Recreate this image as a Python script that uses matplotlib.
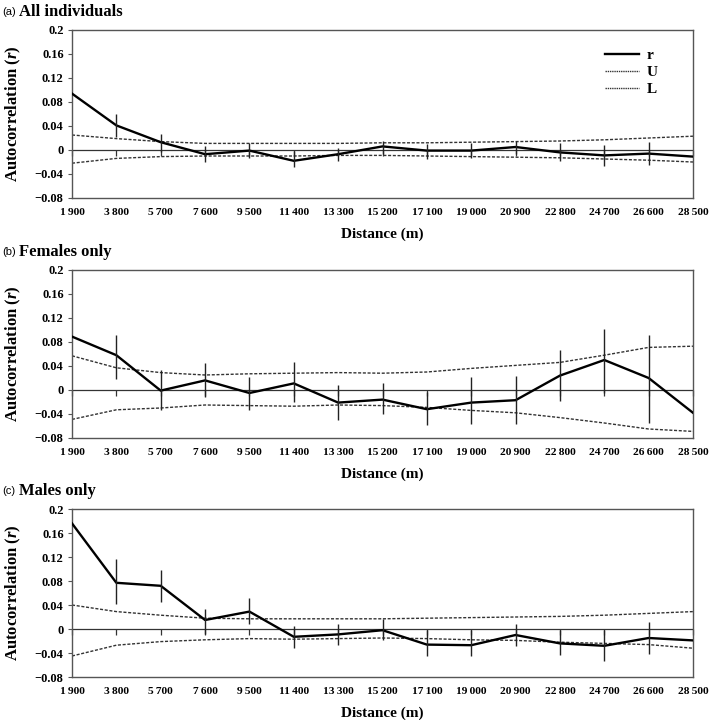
import matplotlib
matplotlib.use("Agg")
import matplotlib.pyplot as plt
import numpy as np
from matplotlib.ticker import FuncFormatter
from matplotlib.lines import Line2D

plt.rcParams["mathtext.fontset"] = "custom"
plt.rcParams["mathtext.it"] = "Liberation Serif:italic:bold"
plt.rcParams["mathtext.rm"] = "Liberation Serif:bold"
plt.rcParams["mathtext.bf"] = "Liberation Serif:bold"

distances = ["1\u2009900", "3\u2009800", "5\u2009700", "7\u2009600", "9\u2009500", "11\u2009400", "13\u2009300",
             "15\u2009200", "17\u2009100", "19\u2009000", "20\u2009900", "22\u2009800", "24\u2009700",
             "26\u2009600", "28\u2009500"]
yticks = [-0.08, -0.04, 0, 0.04, 0.08, 0.12, 0.16, 0.2]

# (a) All individuals
r_all = [0.094, 0.041, 0.013, -0.007, -0.001, -0.018, -0.007, 0.006, -0.001, -0.001, 0.005, -0.004, -0.009, -0.006, -0.011]
hi_all = [None, 0.060, 0.026, 0.006, 0.011, -0.001, 0.004, 0.015, 0.010, 0.011, 0.015, 0.011, 0.008, 0.014, None]
lo_all = [None, 0.022, -0.004, -0.020, -0.013, -0.029, -0.018, -0.007, -0.015, -0.014, -0.007, -0.019, -0.026, -0.025, None]
U_all = [0.025, 0.019, 0.014, 0.011, 0.011, 0.011, 0.011, 0.012, 0.012, 0.013, 0.014, 0.015, 0.017, 0.020, 0.023]
L_all = [-0.022, -0.014, -0.011, -0.010, -0.010, -0.010, -0.009, -0.009, -0.010, -0.011, -0.012, -0.013, -0.015, -0.017, -0.020]

# (b) Females only
r_fem = [0.089, 0.058, -0.001, 0.016, -0.005, 0.011, -0.021, -0.016, -0.032, -0.021, -0.017, 0.024, 0.050, 0.020, -0.038]
hi_fem = [None, 0.092, 0.034, 0.045, 0.021, 0.047, 0.008, 0.011, -0.003, 0.021, 0.024, 0.066, 0.102, 0.091, None]
lo_fem = [None, 0.018, -0.034, -0.011, -0.034, -0.020, -0.050, -0.040, -0.059, -0.057, -0.056, -0.018, -0.005, -0.055, None]
U_fem = [0.057, 0.037, 0.029, 0.025, 0.027, 0.028, 0.029, 0.028, 0.030, 0.036, 0.041, 0.046, 0.058, 0.071, 0.073]
L_fem = [-0.049, -0.033, -0.030, -0.025, -0.026, -0.027, -0.025, -0.026, -0.029, -0.034, -0.038, -0.046, -0.055, -0.065, -0.069]

# (c) Males only
r_mal = [0.176, 0.077, 0.072, 0.015, 0.029, -0.013, -0.009, -0.002, -0.026, -0.027, -0.010, -0.024, -0.028, -0.015, -0.019]
hi_mal = [None, 0.116, 0.098, 0.034, 0.052, 0.005, 0.009, 0.016, -0.001, -0.001, 0.009, -0.001, -0.001, 0.011, None]
lo_mal = [None, 0.042, 0.045, -0.008, 0.008, -0.032, -0.027, -0.019, -0.045, -0.045, -0.029, -0.044, -0.053, -0.042, None]
U_mal = [0.040, 0.029, 0.023, 0.018, 0.017, 0.017, 0.017, 0.017, 0.018, 0.019, 0.020, 0.021, 0.023, 0.026, 0.029]
L_mal = [-0.045, -0.027, -0.021, -0.018, -0.016, -0.017, -0.016, -0.015, -0.016, -0.018, -0.019, -0.022, -0.024, -0.026, -0.032]

panels = [
    ("(a)", "All individuals", r_all, hi_all, lo_all, U_all, L_all),
    ("(b)", "Females only", r_fem, hi_fem, lo_fem, U_fem, L_fem),
    ("(c)", "Males only", r_mal, hi_mal, lo_mal, U_mal, L_mal),
]

W, H = 709, 720
fig = plt.figure(figsize=(W / 100, H / 100), dpi=100)
serif = ["Liberation Serif", "DejaVu Serif"]
sans = "Liberation Sans"

tops = [30, 270, 509]
ax_left, ax_right = 72, 693
ax_h = 168
spine_col = "#555555"

def fmt(v, pos):
    if abs(v) < 1e-9:
        return "0"
    s = ("%.2f" % v).rstrip("0")
    return s.replace("-", "\u2212")

x = np.arange(len(distances))
for i, (tag, title, r, hi, lo, U, L) in enumerate(panels):
    top = tops[i]
    ax = fig.add_axes([ax_left / W, 1 - (top + ax_h) / H, (ax_right - ax_left) / W, ax_h / H])
    ax.set_xlim(0, len(distances) - 1)
    ax.set_ylim(-0.08, 0.2)
    ax.axhline(0, color="#333333", lw=0.9, zorder=1)
    ax.plot(x, U, color="#333333", lw=1.0, ls=(0, (2.2, 1.2)), zorder=2)
    ax.plot(x, L, color="#333333", lw=1.0, ls=(0, (2.2, 1.2)), zorder=2)
    ax.plot(x, r, color="black", lw=1.7, zorder=3)
    idx = [k for k in range(len(x)) if hi[k] is not None]
    ax.vlines([x[k] for k in idx], [lo[k] for k in idx], [hi[k] for k in idx],
              color="#222222", lw=1.0, zorder=3)
    ax.set_yticks(yticks)
    ax.yaxis.set_major_formatter(FuncFormatter(fmt))
    ax.set_xticks(x)
    ax.set_xticklabels(distances)
    ax.tick_params(axis="x", length=0, pad=7)
    ax.tick_params(axis="y", length=3, width=0.8, color=spine_col, pad=3, direction="out")
    for lab in ax.get_xticklabels():
        lab.set_fontfamily(serif)
        lab.set_fontweight("bold")
        lab.set_fontsize(8.2)
    for lab in ax.get_yticklabels():
        lab.set_fontfamily(serif)
        lab.set_fontweight("bold")
        lab.set_fontsize(9)
    for sp in ax.spines.values():
        sp.set_color(spine_col)
        sp.set_linewidth(1.0)
    # tick marks along the zero line
    sec = ax.secondary_xaxis(0.08 / 0.28)
    sec.set_xticks(x)
    sec.set_xticklabels([])
    sec.tick_params(axis="x", length=4, width=0.9, color="#333333", direction="out")
    sec.spines["bottom"].set_visible(False)
    ax.set_xlabel("Distance (m)", fontfamily=serif, fontweight="bold", fontsize=11, labelpad=8)
    ax.set_ylabel("Autocorrelation ($r$)", fontfamily=serif, fontweight="bold", fontsize=12)
    ax.yaxis.set_label_coords(-0.079, 0.5)
    fig.text(2 / W, 1 - (top - 18) / H, tag, fontfamily=sans, fontsize=8, va="center", ha="left")
    fig.text(19 / W, 1 - (top - 18) / H, title, fontfamily=serif, fontweight="bold", fontsize=12,
             va="center", ha="left")
    if i == 0:
        handles = [Line2D([], [], color="black", lw=1.7),
                   Line2D([], [], color="#333333", lw=1.0, ls=(0, (1, 0.6))),
                   Line2D([], [], color="#333333", lw=1.0, ls=(0, (1, 0.6)))]
        leg = ax.legend(handles, ["r", "U", "L"], loc="upper right", bbox_to_anchor=(0.965, 0.97),
                        frameon=False, handlelength=2.2, handletextpad=0.5, labelspacing=0.2,
                        prop={"family": serif, "weight": "bold", "size": 11})

fig.savefig("out.png", dpi=100)
